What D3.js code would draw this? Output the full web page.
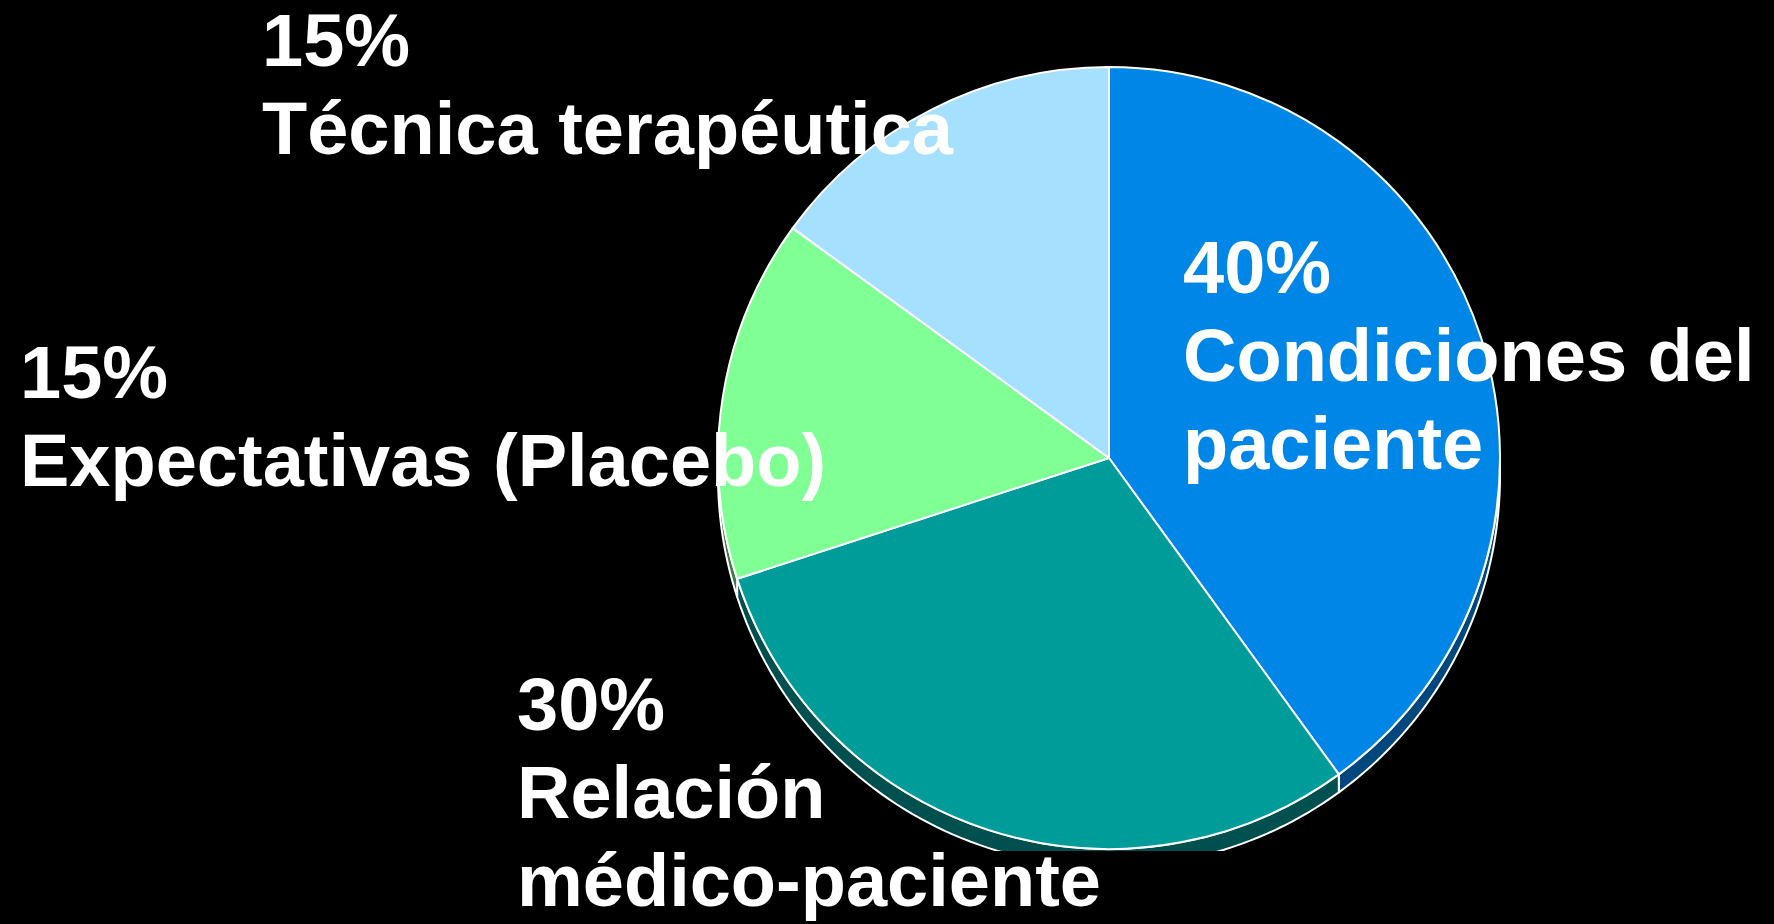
<!DOCTYPE html>
<html>

<head>
  <meta charset="utf-8">
  <title>Pie</title>
  <style>
    html, body {
      margin: 0;
      padding: 0;
      background: #000;
      overflow: hidden;
    }

    .label {
      fill: #fff;
      font-family: "Liberation Sans", Arial, sans-serif;
      font-weight: bold;
      font-size: 74px;
    }
  </style>
</head>

<body>
  <svg></svg>
  <script src="https://cdnjs.cloudflare.com/ajax/libs/d3/7.8.5/d3.min.js"></script>
  <script>
    // datos
    var porcentajes = [40, 30, 15, 15];
    var etiquetas = [
      ["Condiciones del", "paciente"],
      ["Relación", "médico-paciente"],
      ["Expectativas (Placebo)"],
      ["Técnica terapéutica"]
    ];
    var colores = ["#0086E7", "#009C9A", "#80FF94", "#A6E0FF"];
    var coloresLado = ["#00477D", "#005050", "#3E7A48", "#52707F"];

    // layout
    var width = 1774,
      height = 924;
    var cx = 1109, cy = 458, radio = 391, fondo = 18, corteY = 851;
    var posEtiquetas = [[1183, 293], [517, 730], [20, 398], [262, 66]];
    var interlinea = 88;

    var svg = d3.select("svg").attr("width", width).attr("height", height);

    svg.append("defs").append("clipPath").attr("id", "corte")
      .append("rect").attr("x", 0).attr("y", 0).attr("width", width).attr("height", corteY);

    var pie = d3.pie().sort(null).value(function (d) { return d; });
    var arcos = pie(porcentajes);
    var arc = d3.arc().innerRadius(0).outerRadius(radio);

    var g = svg.append("g").attr("clip-path", "url(#corte)");

    // lado (profundidad) de cada porcion, solo la mitad inferior
    function punto(a, dy) {
      return [cx + radio * Math.sin(a), cy - radio * Math.cos(a) + dy];
    }

    arcos.forEach(function (d, i) {
      var a0 = Math.max(d.startAngle, Math.PI / 2),
        a1 = Math.min(d.endAngle, Math.PI * 1.5);
      if (a1 <= a0) return;
      var n = 80;
      var arriba = d3.range(n + 1).map(function (k) { return punto(a0 + (a1 - a0) * k / n, 0); });
      var abajo = d3.range(n + 1).map(function (k) { return punto(a1 - (a1 - a0) * k / n, fondo); });
      g.append("path")
        .attr("d", d3.line()(arriba.concat(abajo)) + "Z")
        .style("fill", coloresLado[i])
        .style("stroke", "#fff")
        .style("stroke-width", 2)
        .style("stroke-linejoin", "round");
    });

    // cara superior
    g.selectAll("path.cara").data(arcos)
      .enter()
      .append("path")
      .attr("class", "cara")
      .attr("transform", "translate(" + cx + "," + cy + ")")
      .attr("d", arc)
      .style("fill", function (d, i) { return colores[i]; })
      .style("stroke", "#fff")
      .style("stroke-width", 2)
      .style("stroke-linejoin", "round");

    // etiquetas
    arcos.forEach(function (d, i) {
      var lineas = [d.data + "%"].concat(etiquetas[i]);
      var t = svg.append("text")
        .attr("class", "label")
        .attr("x", posEtiquetas[i][0])
        .attr("y", posEtiquetas[i][1]);
      t.selectAll("tspan").data(lineas)
        .enter()
        .append("tspan")
        .attr("x", posEtiquetas[i][0])
        .attr("dy", function (l, k) { return k == 0 ? 0 : interlinea; })
        .text(function (l) { return l; });
    });
  </script>
</body>

</html>
